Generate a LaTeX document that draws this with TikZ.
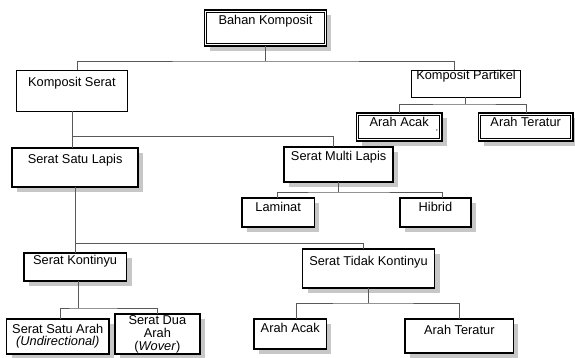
\documentclass[tikz,border=0pt]{standalone}
\usepackage{fontspec}
\setmainfont{Liberation Sans}
\usetikzlibrary{shadows,calc}
\tikzset{
  base/.style={draw=black, fill=white, anchor=north west, inner sep=0pt, outer sep=0pt},
  sz/.style 2 args={minimum width=#1pt, minimum height=#2pt},
  shd/.style={general shadow={fill=black!22, shadow xshift=5pt, shadow yshift=-5pt}},
  thinbox/.style={base, line width=0.7pt},
  thickbox/.style={base, line width=1.6pt, shd},
  dblbox/.style={base, line width=1.2pt, shd,
    path picture={\draw[line width=0.7pt]
      ([shift={(2.2pt,-2.2pt)}]path picture bounding box.north west) rectangle
      ([shift={(-2.2pt,2.2pt)}]path picture bounding box.south east);}},
  lbl/.style={font=\fontsize{12.8}{13}\selectfont, inner sep=0pt, align=center},
  conn/.style={draw=black!65, line width=0.8pt},
}
\begin{document}
\begin{tikzpicture}[x=1pt, y=-1pt]
\useasboundingbox (0,0) rectangle (575,358);
% boxes
\node[dblbox, sz={121.8}{36}] (bk) at (204.6,10) {};
\node[thinbox, sz={110.7}{41}] (ks) at (16.5,70) {};
\node[thinbox, sz={109.3}{27}] (kp) at (411.4,70) {};
\node[dblbox, sz={85.4}{28}] (aa1) at (356.5,113) {};
\node[dblbox, sz={94.4}{28}] (at1) at (478.5,113) {};
\node[thickbox, sz={126.1}{39}] (ssl) at (12.1,148) {};
\node[thickbox, sz={108.9}{35}] (sml) at (284.2,147) {};
\node[thickbox, sz={72.3}{29}] (lam) at (242,198) {};
\node[thickbox, sz={71.5}{29}] (hib) at (399.7,198) {};
\node[thickbox, sz={102.7}{28}] (sk) at (23.8,253) {};
\node[thickbox, sz={132}{39}] (stk) at (302.5,249) {};
\node[thickbox, sz={102.3}{35}] (ssa) at (6.6,319) {};
\node[thickbox, sz={85.1}{40}] (sda) at (114.8,314) {};
\node[thickbox, sz={72.3}{30}] (aa2) at (254.1,319) {};
\node[thickbox, sz={108.2}{34}] (at2) at (405.2,319) {};
% labels
\node[lbl] (bkt) at (bk.north |- 0,21) {Bahan Komposit};
\node[lbl] (kst) at (ks.north |- 0,83) {Komposit Serat};
\node[lbl] (kpt) at (kp.north |- 0,76) {Komposit Partikel};
\node[lbl] (aa1t) at (aa1.north |- 0,122) {Arah Acak};
\node[lbl] (at1t) at (at1.north |- 0,122) {Arah Teratur};
\node[lbl, font=\fontsize{8}{8}\selectfont] (cm) at (437,131) {,};
\node[lbl] (sslt) at (ssl.north |- 0,160) {Serat Satu Lapis};
\node[lbl] (smlt) at (sml.north |- 0,157) {Serat Multi Lapis};
\node[lbl] (lamt) at (lam.north |- 0,207) {Laminat};
\node[lbl] (hibt) at (hib.north |- 0,207) {Hibrid};
\node[lbl] (skt) at (sk.north |- 0,261) {Serat Kontinyu};
\node[lbl] (stkt) at (stk.north |- 0,262) {Serat Tidak Kontinyu};
\node[lbl, font=\fontsize{12.8}{12}\selectfont] (ssat) at (ssa.north |- 0,336) {Serat Satu Arah\\\textit{(Undirectional)}};
\node[lbl, font=\fontsize{12.8}{13}\selectfont] (sdat) at (sda.north |- 0,334) {Serat Dua\\Arah\\(\textit{Wover})};
\node[lbl] (aa2t) at (aa2.north |- 0,328) {Arah Acak};
\node[lbl] (at2t) at (at2.north |- 0,330) {Arah Teratur};
% junctions
\coordinate (j1) at (265.5,61);
\coordinate (j2) at (465.7,104);
\coordinate (j3) at (72.2,136);
\coordinate (j4) at (338.1,192);
\coordinate (j5) at (75.2,243);
\coordinate (j6) at (78.1,308);
\coordinate (j7) at (368.5,303);
% connectors
\draw[conn] (bk.south) -- (j1);
\draw[conn] (77.7,0 |- ks.north) |- (j1) -| (454.7,0 |- kp.north);
\draw[conn] (465.7,0 |- kp.south) -- (j2);
\draw[conn] (399.7,0 |- aa1.north) |- (j2) -| (526.2,0 |- at1.north);
\draw[conn] (72.2,0 |- ks.south) -- (72.2,0 |- ssl.north);
\draw[conn] (j3) -| (333.7,0 |- sml.north);
\draw[conn] (338.1,0 |- sml.south) -- (j4);
\draw[conn] (277.6,0 |- lam.north) |- (j4) -| (441.9,0 |- hib.north);
\draw[conn] (75.2,0 |- ssl.south) -- (75.2,0 |- sk.north);
\draw[conn] (j5) -| (363,0 |- stk.north);
\draw[conn] (78.1,0 |- sk.south) -- (j6);
\draw[conn] (60.5,0 |- ssa.north) |- (j6) -| (157.7,0 |- sda.north);
\draw[conn] (368.5,0 |- stk.south) -- (j7);
\draw[conn] (296.3,0 |- aa2.north) |- (j7) -| (459.1,0 |- at2.north);
\end{tikzpicture}
\end{document}
